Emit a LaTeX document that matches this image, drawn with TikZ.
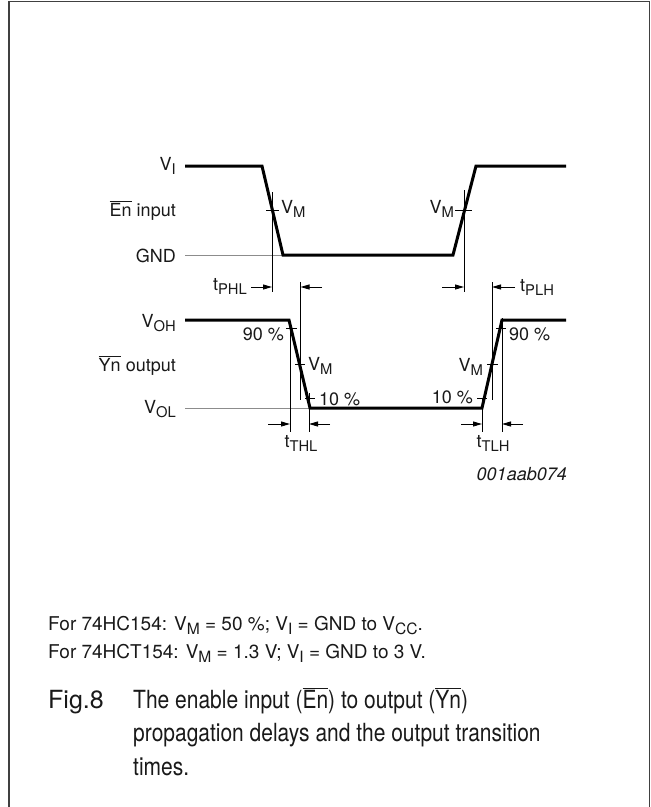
\documentclass[tikz,border=0pt]{standalone}
\usepackage{fontspec}
\usepackage{graphicx}
\setmainfont{TeX Gyre Heros}
\newfontfamily\capfont[FakeStretch=0.84]{TeX Gyre Heros}
\usetikzlibrary{arrows.meta}
\newcommand\sbs[1]{\raisebox{-0.25em}{\scalebox{0.82}{#1}}}
\newcommand\ovl[1]{$\overline{\mbox{#1}}$}
\begin{document}
\begin{tikzpicture}[x=1pt,y=-1pt,
  wave/.style={line width=3pt, line join=miter},
  refline/.style={line width=1pt, draw=black!45},
  guide/.style={line width=0.9pt},
  tickln/.style={line width=0.9pt},
  dimarrow/.style={line width=0.9pt, -{Triangle[length=9pt,width=5pt]}},
  lbl/.style={font=\fontsize{18}{20}\selectfont, inner sep=0pt, text=black!90},
  notetext/.style={font=\fontsize{19}{22}\selectfont, inner sep=0pt, text=black!90},
  captext/.style={font=\capfont\fontsize{25}{30}\selectfont, inner sep=0pt, text=black!90},
  figtext/.style={font=\fontsize{25}{30}\selectfont, inner sep=0pt, text=black!90}]
\useasboundingbox (0,0) rectangle (651,807);
% frame
\draw[line width=1.8pt, draw=black!75] (9.3,807) -- (9.3,1.5) -- (649.5,1.5) -- (649.5,807);

% key coordinates
\coordinate (i0) at (185,166); \coordinate (i1) at (262,166); \coordinate (i2) at (283,255);
\coordinate (i3) at (453,255); \coordinate (i4) at (476,166); \coordinate (i5) at (566,166);
\coordinate (g0) at (185,255);
\coordinate (o0) at (185,320); \coordinate (o1) at (289,320); \coordinate (o2) at (310,408);
\coordinate (o3) at (482,408); \coordinate (o4) at (502,320); \coordinate (o5) at (566,320);
\coordinate (l0) at (185,408);

% reference lines
\draw[refline] (g0) -- (i2);
\draw[refline] (l0) -- (o2);

% waveforms
\draw[wave] (i0) -- (i1) -- (i2) -- (i3) -- (i4) -- (i5);
\draw[wave] (o0) -- (o1) -- (o2) -- (o3) -- (o4) -- (o5);

% vertical guides
\coordinate (va1) at (272,192); \coordinate (va2) at (272,292);
\coordinate (vb1) at (464,190); \coordinate (vb2) at (464,292);
\coordinate (vc1) at (300.5,282); \coordinate (vc2) at (300.5,400);
\coordinate (vd1) at (492,282); \coordinate (vd2) at (492,400);
\coordinate (ve1) at (290,325); \coordinate (ve2) at (290,432);
\coordinate (vf1) at (309,393); \coordinate (vf2) at (309,432);
\coordinate (vg1) at (482,398); \coordinate (vg2) at (482,432);
\coordinate (vh1) at (502,318); \coordinate (vh2) at (502,432);
\foreach \v in {a,b,c,d,e,f,g,h} \draw[guide] (v\v1) -- (v\v2);

% ticks
\coordinate (ta1) at (266,210); \coordinate (ta2) at (279,210);
\coordinate (tb1) at (455,210); \coordinate (tb2) at (472,210);
\coordinate (tc1) at (286,328); \coordinate (tc2) at (297,328);
\coordinate (td1) at (295,364); \coordinate (td2) at (305,364);
\coordinate (te1) at (305,398); \coordinate (te2) at (315,398);
\coordinate (tf1) at (477,398); \coordinate (tf2) at (487,398);
\coordinate (tg1) at (487,364); \coordinate (tg2) at (498,364);
\coordinate (th1) at (496,328); \coordinate (th2) at (506,328);
\foreach \v in {a,b,c,d,e,f,g,h} \draw[tickln] (t\v1) -- (t\v2);

% dimension arrows
\coordinate (a1s) at (251,287); \coordinate (a1e) at (272,287);
\coordinate (a2s) at (322,287); \coordinate (a2e) at (300.5,287);
\coordinate (a3s) at (442,287); \coordinate (a3e) at (464,287);
\coordinate (a4s) at (515,287); \coordinate (a4e) at (492,287);
\coordinate (a5s) at (268,424); \coordinate (a5e) at (290,424);
\coordinate (a6s) at (330,424); \coordinate (a6e) at (309,424);
\coordinate (a7s) at (461,424); \coordinate (a7e) at (482,424);
\coordinate (a8s) at (523,424); \coordinate (a8e) at (502,424);
\foreach \v in {1,...,8} \draw[dimarrow] (a\v s) -- (a\v e);

% left labels
\node[lbl, anchor=base east] (lVI) at (176,170) {V\sbs{I}};
\node[lbl, anchor=base east] (lEn) at (176,216) {\ovl{En} input};
\node[lbl, anchor=base east] (lGND) at (176,262) {GND};
\node[lbl, anchor=base east] (lVOH) at (176,327) {V\sbs{OH}};
\node[lbl, anchor=base east] (lYn) at (176,371) {\ovl{Yn} output};
\node[lbl, anchor=base east] (lVOL) at (176,413) {V\sbs{OL}};

% inner labels
\node[lbl, anchor=base west] (vm1) at (281,213) {V\sbs{M}};
\node[lbl, anchor=base east] (vm2) at (454,213) {V\sbs{M}};
\node[lbl, anchor=base east] (p90a) at (284,340) {90 \%};
\node[lbl, anchor=base west] (vm3) at (308,370) {V\sbs{M}};
\node[lbl, anchor=base west] (p10a) at (319,405) {10 \%};
\node[lbl, anchor=base east] (p10b) at (473,403) {10 \%};
\node[lbl, anchor=base east] (vm4) at (483,371) {V\sbs{M}};
\node[lbl, anchor=base west] (p90b) at (509,340) {90 \%};
\node[lbl, anchor=base east] (tphl) at (247,290) {t\sbs{PHL}};
\node[lbl, anchor=base west] (tplh) at (520,291) {t\sbs{PLH}};
\node[lbl, anchor=base] (tthl) at (301,447) {t\sbs{THL}};
\node[lbl, anchor=base] (ttlh) at (493,447) {t\sbs{TLH}};
\node[lbl, anchor=base east, font=\fontsize{18}{20}\selectfont\itshape] (code) at (567,480) {001aab074};

% notes
\node[notetext, anchor=base west] (n1) at (48,630) {For 74HC154: V\sbs{M} = 50 \%; V\sbs{I} = GND to V\sbs{CC}.};
\node[notetext, anchor=base west] (n2) at (48,658) {For 74HCT154: V\sbs{M} = 1.3 V; V\sbs{I} = GND to 3 V.};

% caption
\node[figtext, anchor=base west] (f8) at (48,708) {Fig.8};
\node[captext, anchor=base west] (c1) at (133,708) {The enable input (\ovl{En}) to output (\ovl{Yn})};
\node[captext, anchor=base west] (c2) at (133,741.5) {propagation delays and the output transition};
\node[captext, anchor=base west] (c3) at (133,775) {times.};
\end{tikzpicture}
\end{document}
